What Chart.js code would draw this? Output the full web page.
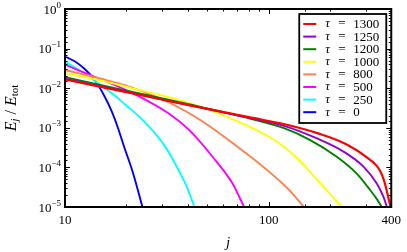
<!DOCTYPE html>
<html><head><meta charset="utf-8">
<script src="https://cdn.jsdelivr.net/npm/chart.js@4.4.1/dist/chart.umd.min.js"></script>
<style>html,body{margin:0;padding:0;background:#fff;}canvas{display:block;}</style>
</head><body>
<canvas id="c" width="407" height="252"></canvas>
<script>
// ---- data ----
const tauLabels = ['1300','1250','1200','1000','800','500','250','0'];
const seriesColors = ['#ff0000','#9400d3','#008000','#ffff00','#ff7f50','#ff00ff','#00ffff','#0000ff'];

const jTau1300 = [10, 20, 40, 80, 120, 175, 235, 300, 350, 372, 386, 397];
const eTau1300 = [0.0166, 0.00794, 0.00380, 0.00186, 0.00123, 7.24e-4, 4.07e-4, 1.86e-4, 8.71e-5, 3.98e-5, 1.82e-5, 1.0e-5];

const jTau1250 = [10, 20, 40, 80, 119, 173, 233, 292, 339, 366, 381];
const eTau1250 = [0.0174, 0.00813, 0.00380, 0.00178, 0.00112, 5.37e-4, 2.51e-4, 1.05e-4, 3.98e-5, 1.82e-5, 1.0e-5];

const jTau1200 = [10, 20, 40, 80, 119, 160, 216, 270, 315, 340, 359];
const eTau1200 = [0.0191, 0.00871, 0.00398, 0.00174, 9.77e-4, 4.90e-4, 1.86e-4, 7.08e-5, 2.69e-5, 1.58e-5, 1.0e-5];

const jTau1000 = [10, 15, 21, 33, 47, 69, 100, 119, 140, 170, 200, 228];
const eTau1000 = [0.0240, 0.0158, 0.0102, 0.00575, 0.00331, 0.00151, 6.03e-4, 3.31e-4, 1.58e-4, 5.37e-5, 2.14e-5, 1.0e-5];

const jTau800 = [10, 15, 21, 33, 47, 69, 100, 125, 149];
const eTau800 = [0.0288, 0.0174, 0.0107, 0.00417, 0.00148, 3.55e-4, 7.94e-5, 2.82e-5, 1.0e-5];

const jTau500 = [10, 14.6, 21, 32.6, 40.8, 53, 66.4, 75.7];
const eTau500 = [0.0389, 0.0178, 0.00794, 0.00224, 8.71e-4, 1.86e-4, 3.98e-5, 1.0e-5];

const jTau250 = [10, 12, 14.6, 17, 19.6, 24.6, 30.8, 34, 39.3, 43.2];
const eTau250 = [0.0468, 0.0263, 0.0132, 0.00741, 0.00398, 0.00141, 3.55e-4, 1.51e-4, 3.55e-5, 1.0e-5];

const jTau0 = [10, 11.2, 12.5, 14.0, 15.7, 17.0, 18.2, 19.6, 21.5, 24.0];
const eTau0 = [0.0631, 0.0472, 0.0305, 0.0161, 0.0060, 0.00251, 9.89e-4, 3.09e-4, 7.66e-5, 1.0e-5];

const xTickLabels = [10, 100, 400];
const yTickExponents = [0, -1, -2, -3, -4, -5];
const xMin = 10, xMax = 400, yMin = 1e-5, yMax = 1;

// ---- build datasets ----
const jSets = [jTau1300, jTau1250, jTau1200, jTau1000, jTau800, jTau500, jTau250, jTau0];
const eSets = [eTau1300, eTau1250, eTau1200, eTau1000, eTau800, eTau500, eTau250, eTau0];
const datasets = tauLabels.map((t, i) => ({
  label: 'τ = ' + t,
  data: jSets[i].map((j, k) => ({x: j, y: eSets[i][k]})),
  borderColor: seriesColors[i],
  backgroundColor: seriesColors[i],
  borderWidth: i === 0 ? 2.2 : 1.9,
  pointRadius: 0,
  fill: false,
  cubicInterpolationMode: 'monotone',
  clip: 0
}));

const SERIF = '"Liberation Serif", "DejaVu Serif", serif';
function isPow10(v){ const l = Math.log10(v); return Math.abs(l - Math.round(l)) < 1e-9; }

const decor = {
  id: 'decor',
  afterDraw(chart){
    const ctx = chart.ctx, a = chart.chartArea, xs = chart.scales.x, ys = chart.scales.y;
    ctx.save();
    ctx.strokeStyle = '#000';
    ctx.lineWidth = 1;
    ctx.beginPath();
    xs.ticks.forEach(t => {
      const px = Math.round(xs.getPixelForValue(t.value)) + 0.5;
      const L = isPow10(t.value) ? 5 : 2.5;
      ctx.moveTo(px, a.bottom); ctx.lineTo(px, a.bottom - L);
      ctx.moveTo(px, a.top); ctx.lineTo(px, a.top + L);
    });
    ys.ticks.forEach(t => {
      const py = Math.round(ys.getPixelForValue(t.value)) + 0.5;
      const L = isPow10(t.value) ? 5 : 2.5;
      ctx.moveTo(a.left, py); ctx.lineTo(a.left + L, py);
      ctx.moveTo(a.right, py); ctx.lineTo(a.right - L, py);
    });
    ctx.stroke();
    // frame
    ctx.lineWidth = 2;
    ctx.strokeRect(a.left, a.top, a.right - a.left, a.bottom - a.top);

    // y tick labels 10^e
    ctx.fillStyle = '#000';
    ctx.textBaseline = 'alphabetic';
    yTickExponents.forEach(e => {
      const py = ys.getPixelForValue(Math.pow(10, e));
      const expStr = e === 0 ? '0' : '\u2212' + Math.abs(e);
      ctx.font = '9px ' + SERIF;
      const we = ctx.measureText(expStr).width;
      ctx.font = '13px ' + SERIF;
      const wb = ctx.measureText('10').width;
      const right = a.left - 4;
      ctx.textAlign = 'left';
      ctx.fillText('10', right - we - wb, py + 4.5);
      ctx.font = '9px ' + SERIF;
      ctx.fillText(expStr, right - we, py - 1.5);
    });

    // y title
    ctx.save();
    ctx.translate(12, (a.top + a.bottom) / 2);
    ctx.rotate(-Math.PI / 2);
    const parts = [
      ['E', 'italic 16px ' + SERIF, 0],
      ['j', 'italic 11px ' + SERIF, 3.5],
      [' / ', '16px ' + SERIF, 0],
      ['E', 'italic 16px ' + SERIF, 0],
      ['tot', '11px ' + SERIF, 3.5]
    ];
    let total = 0;
    parts.forEach(p => { ctx.font = p[1]; total += ctx.measureText(p[0]).width; });
    let cx = -total / 2;
    ctx.textAlign = 'left';
    ctx.textBaseline = 'middle';
    parts.forEach(p => { ctx.font = p[1]; ctx.fillText(p[0], cx, p[2]); cx += ctx.measureText(p[0]).width; });
    ctx.restore();

    // x title
    ctx.font = 'italic 15px ' + SERIF;
    ctx.textAlign = 'center';
    ctx.textBaseline = 'middle';
    ctx.fillText('j', (a.left + a.right) / 2, 243);

    // legend
    const lx = a.right - 92, ly = a.top + 5, lw = 87, lh = 109;
    ctx.fillStyle = '#fff';
    ctx.fillRect(lx, ly, lw, lh);
    ctx.lineWidth = 1.8;
    ctx.strokeStyle = '#000';
    ctx.strokeRect(lx, ly, lw, lh);
    chart.data.datasets.forEach((ds, i) => {
      const y = ly + 10 + i * 12.6;
      ctx.strokeStyle = ds.borderColor;
      ctx.lineWidth = 2;
      ctx.beginPath(); ctx.moveTo(lx + 4, y); ctx.lineTo(lx + 17, y); ctx.stroke();
      ctx.fillStyle = '#000';
      ctx.textAlign = 'left';
      ctx.textBaseline = 'middle';
      ctx.font = 'italic 13px ' + SERIF;
      ctx.fillText('τ', lx + 26, y);
      ctx.font = '13px ' + SERIF;
      ctx.fillText('=', lx + 39, y);
      ctx.fillText(tauLabels[i], lx + 54, y + 0.5);
    });
    ctx.restore();
  }
};

new Chart(document.getElementById('c'), {
  type: 'line',
  data: { datasets },
  options: {
    responsive: false,
    animation: false,
    devicePixelRatio: 1,
    layout: { padding: { top: 9, right: 14, left: 0, bottom: 0 } },
    plugins: { legend: { display: false }, tooltip: { enabled: false } },
    elements: { point: { radius: 0 } },
    scales: {
      x: {
        type: 'logarithmic', min: xMin, max: xMax,
        grid: { display: false, drawTicks: false },
        border: { display: false },
        ticks: {
          autoSkip: false, maxRotation: 0, color: '#000', padding: 6,
          font: { family: SERIF, size: 13 },
          callback: v => xTickLabels.includes(Math.round(v)) && Math.abs(v - Math.round(v)) < 1e-6 ? String(Math.round(v)) : ''
        },
        afterFit: s => { s.height = 45; }
      },
      y: {
        type: 'logarithmic', min: yMin, max: yMax,
        grid: { display: false, drawTicks: false },
        border: { display: false },
        ticks: { display: false, autoSkip: false },
        afterFit: s => { s.width = 65; }
      }
    }
  },
  plugins: [decor]
});
</script>
</body></html>
